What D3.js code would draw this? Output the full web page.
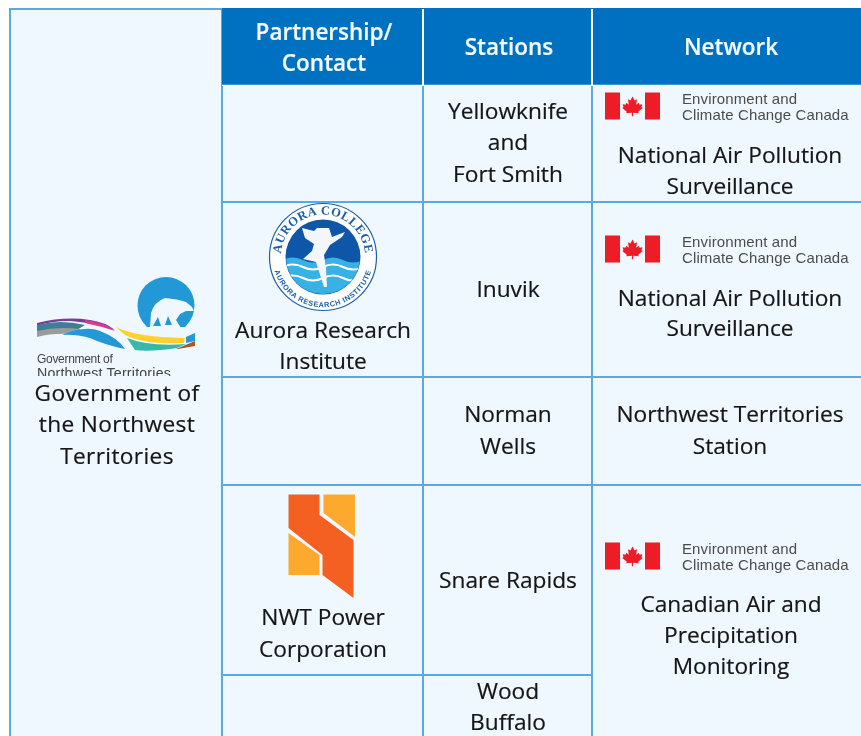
<!DOCTYPE html>
<html><head><meta charset="utf-8">
<style>html,body{margin:0;padding:0;background:#fff;overflow:hidden}svg{display:block}text{font-family:"Open Sans",sans-serif}</style>
<script src="https://cdnjs.cloudflare.com/ajax/libs/d3/7.8.5/d3.min.js"></script>
</head><body><div id="c"></div>
<script>
// ---- content ----
const headers = ["Partnership/\nContact", "Stations", "Network"];
const government = "Government of\nthe Northwest\nTerritories";
const partners = ["", "Aurora Research\nInstitute", "", "NWT Power\nCorporation", ""];
const stations = ["Yellowknife\nand\nFort Smith", "Inuvik", "Norman\nWells", "Snare Rapids", "Wood\nBuffalo"];
const networks = ["National Air Pollution\nSurveillance", "National Air Pollution\nSurveillance", "Northwest Territories\nStation", "Canadian Air and\nPrecipitation\nMonitoring"];
const networkSpans = [1, 1, 1, 2];
const eccc = ["Environment and", "Climate Change Canada"];

// ---- layout ----
const W = 861, H = 736;
const colKeys = ["gov", "partner", "station", "network", "end"];
const x = d3.scaleOrdinal().domain(colKeys).range([10, 222, 423, 592, 900]);
const rowKeys = ["top", "r0", "r1", "r2", "r3", "r4", "end"];
const y = d3.scaleOrdinal().domain(rowKeys).range([9, 85, 202, 377, 485, 675, 790]);
const BORDER = "#5aa9e2", HEAD = "#0070c0", CELL = "#f0f8ff", INK = "#141414";

const svg = d3.select("#c").append("svg").attr("width", W).attr("height", H);
const defs = svg.append("defs");
defs.append("filter").attr("id", "soft").append("feGaussianBlur").attr("stdDeviation", 0.55);
defs.append("filter").attr("id", "softer").append("feGaussianBlur").attr("stdDeviation", 0.28);
defs.append("clipPath").attr("id", "gclip").append("rect").attr("x", 0).attr("y", 0).attr("width", 300).attr("height", 376);
defs.append("clipPath").attr("id", "bearclip").append("rect").attr("x", 130).attr("y", 270).attr("width", 70).attr("height", 57);

// cells
function cell(c0, c1, r0, r1, fill, stroke, sw) {
  svg.append("rect").attr("x", x(c0)).attr("y", y(r0))
    .attr("width", x(c1) - x(c0)).attr("height", y(r1) - y(r0))
    .attr("fill", fill).attr("stroke", stroke).attr("stroke-width", sw || 2);
}
cell("gov", "partner", "top", "end", CELL, BORDER);
["r0", "r1", "r2", "r3", "r4"].forEach((r, i) => {
  const nxt = rowKeys[rowKeys.indexOf(r) + 1];
  cell("partner", "station", r, nxt, CELL, BORDER);
  cell("station", "network", r, nxt, CELL, BORDER);
});
let rowIdx = 1;
networkSpans.forEach(s => { cell("network", "end", rowKeys[rowIdx], rowKeys[rowIdx + s], CELL, BORDER); rowIdx += s; });

// header
svg.append("rect").attr("x", x("partner")).attr("y", y("top") - 1).attr("width", W - x("partner")).attr("height", y("r0") - y("top") + 1).attr("fill", HEAD);
svg.append("line").attr("x1", x("partner")).attr("x2", W).attr("y1", y("r0") + 0.5).attr("y2", y("r0") + 0.5).attr("stroke", "#fff").attr("stroke-width", 1.5);
["station", "network"].forEach(c => svg.append("line").attr("x1", x(c)).attr("x2", x(c)).attr("y1", y("top")).attr("y2", y("r0")).attr("stroke", "#fff").attr("stroke-width", 2));
["partner", "station", "network"].forEach(c => svg.append("line").attr("x1", x(c)).attr("x2", x(c)).attr("y1", y("r0") + 1).attr("y2", y("r0") + 8).attr("stroke", BORDER).attr("stroke-width", 2));

// multi-line centred text
function label(str, cx, firstCy, step, opts = {}) {
  const g = svg.append("g").attr("filter", "url(#softer)");
  g.selectAll("text").data(str.split("\n")).join("text")
    .attr("x", cx).attr("y", (d, i) => firstCy + i * step)
    .attr("text-anchor", "middle").attr("dominant-baseline", "central")
    .attr("font-size", opts.size || 22.7).attr("font-weight", opts.weight || 400)
    .attr("letter-spacing", opts.spacing || 0)
    .attr("stroke", opts.fill || INK).attr("stroke-width", 0.2)
    .attr("fill", opts.fill || INK).text(d => d);
}
const headPos = [[324, 31, 31.5], [509, 46, 0], [731, 46, 0]];
headers.forEach((h, i) => label(h, headPos[i][0], headPos[i][1], headPos[i][2], { fill: "#f4faff", weight: 600, size: 22.5 }));
label(government, 117, 392, 31.5, { spacing: 0.35 });
const partnerPos = { 1: [323, 329, 31], 3: [323, 616, 32] };
partners.forEach((p, i) => { if (p) label(p, partnerPos[i][0], partnerPos[i][1], partnerPos[i][2]); });
const stationPos = [[110, 31.5], [288, 0], [413, 32], [579, 0], [690, 31]];
stations.forEach((s, i) => label(s, 508, stationPos[i][0], stationPos[i][1]));
const networkPos = [[730, 154, 31], [730, 297, 30], [730, 413, 32], [731, 603, 31]];
networks.forEach((n, i) => label(n, networkPos[i][0], networkPos[i][1], networkPos[i][2]));

// Canada wordmark logo
function ecccLogo(top) {
  const g = svg.append("g").attr("transform", `translate(605,${top})`);
  const art = g.append("g").attr("filter", "url(#soft)");
  art.append("rect").attr("width", 15).attr("height", 27).attr("fill", "#ee1c25");
  art.append("rect").attr("x", 40).attr("width", 15).attr("height", 27).attr("fill", "#ee1c25");
  art.append("path").attr("fill", "#ee1c25").attr("transform", "translate(27.5,13) scale(0.82) translate(-27.5,-14)")
    .attr("d", "M27.5 3 L30 8 L33 6.5 L32 13 L35 10.5 L36 13 L39.5 12.5 L38.5 16 L40 17 L34.5 21.5 L35 23.5 L28.3 22.7 L28.3 27 L26.7 27 L26.7 22.7 L20 23.5 L20.5 21.5 L15 17 L16.5 16 L15.5 12.5 L19 13 L20 10.5 L23 13 L22 6.5 L25 8 Z");
  const t = g.append("g").attr("filter", "url(#softer)");
  t.selectAll("text").data(eccc).join("text")
    .attr("x", 77).attr("y", (d, i) => 6 + i * 16)
    .attr("dominant-baseline", "central").attr("font-size", 15).attr("letter-spacing", 0.12)
    .attr("fill", "#4c4c4c").style("font-family", "'Liberation Sans',sans-serif").text(d => d);
}
[92.5, 235.5, 542.5].forEach(ecccLogo);

// GNWT logo
const gn = svg.append("g").attr("filter", "url(#soft)");
const bearG = gn.append("g").attr("clip-path", "url(#bearclip)");
bearG.append("circle").attr("cx", 166).attr("cy", 305.5).attr("r", 28.5).attr("fill", "#2398d6");
bearG.append("path").attr("fill", CELL).attr("d", "M150 328 L151 313 Q154 302 165 298 Q178 299 186 302 L192 307 L194 311 L186 311 L180 314 L176 320 L181 328 Z");
bearG.append("path").attr("fill", "#2398d6").attr("d", "M153 326 L158 317 L161 326 Z M165 325 L168 316 L172 325 Z");
gn.append("path").attr("fill", "#7c3b98").attr("d", "M37 323 Q65 316 90 320 Q105 322 115 330 Q95 323 70 321 Q50 321 37 326 Z");
gn.append("path").attr("fill", "#d8398f").attr("d", "M85 320 Q105 322 115 331 Q100 326 85 323 Z");
gn.append("path").attr("fill", "#3c7f96").attr("d", "M37 325 Q60 319 85 325 L75 331 Q55 329 37 332 Z");
gn.append("path").attr("fill", "#9b9b9b").attr("d", "M37 331 Q58 326 80 329 L87 336 Q60 331 37 337 Z");
gn.append("path").attr("fill", "#2398d6").attr("d", "M62 335 Q85 325 100 331 Q118 338 125 349 Q105 345 90 338 Q75 334 62 335 Z");
gn.append("path").attr("fill", "#ffd02f").attr("d", "M116 327 Q135 337 185 338 L184 343 Q145 345 125 335 Z");
gn.append("path").attr("fill", "#38b8a8").attr("d", "M127 338 Q150 347 186 344 L177 348 Q150 352 135 350 Z");
gn.append("path").attr("fill", "#2398d6").attr("d", "M186 337 L195 333 L195 341 L186 343 Z");
gn.append("path").attr("fill", "#a5582a").attr("d", "M176 349 L195 341 L195 346 L178 349 Z");
const gt = svg.append("g").attr("clip-path", "url(#gclip)").append("g").attr("filter", "url(#softer)");
const gnwtWords = ["Government of", "Northwest Territories"];
gt.selectAll("text").data(gnwtWords).join("text")
  .attr("x", 37).attr("y", (d, i) => i ? 372.5 : 358.5).attr("dominant-baseline", "central")
  .attr("font-size", (d, i) => i ? 14.2 : 12).attr("letter-spacing", (d, i) => i ? 0.2 : -0.3).attr("fill", "#444")
  .style("font-family", "'Liberation Sans',sans-serif").text(d => d);

// Aurora College seal
const au = svg.append("g").attr("transform", "translate(323,257)");
const auArt = au.append("g").attr("filter", "url(#soft)");
auArt.append("circle").attr("r", 53.5).attr("fill", "#fff").attr("stroke", "#1d5fa8").attr("stroke-width", 1.2);
auArt.append("circle").attr("r", 37.5).attr("fill", "#0f57a8");
defs.append("clipPath").attr("id", "auclip").append("circle").attr("r", 37);
const inner = auArt.append("g").attr("clip-path", "url(#auclip)");
inner.append("path").attr("fill", "#39b1e6").attr("d", "M-40 3 Q-30 -2 -20 3 T0 3 T20 3 T40 3 V40 H-40 Z");
inner.selectAll(".w").data([10, 21]).join("path").attr("fill", "none").attr("stroke", "#fff").attr("stroke-width", 2)
  .attr("d", d => `M-40 ${d} Q-30 ${d - 5} -20 ${d} T0 ${d} T20 ${d} T40 ${d}`);
auArt.append("path").attr("fill", "#f4f6fb").attr("d", "M-21 -29 L-9 -26 L-6 -29 L6 -29 L9 -20 L22 -25 L19 -20 L7 -12 L1 -2 L3 12 L4 30 L1 30 L-7 5 L-20 2 L-11 -6 L-9 -13 L-18 -19 Z");
defs.append("path").attr("id", "arcTop").attr("d", "M-41.5 6 A42 42 0 1 1 41.5 6");
defs.append("path").attr("id", "arcBot").attr("d", "M-50 -5 A50.25 50.25 0 1 0 50 -5");
const sealText = [["#arcTop", "AURORA COLLEGE", 12.5, "'Liberation Serif',serif", 0.5], ["#arcBot", "AURORA RESEARCH INSTITUTE", 7.3, "'Liberation Sans',sans-serif", 0.6]];
sealText.forEach(([href, str, fs, fam, sp]) => {
  au.append("text").attr("font-size", fs).attr("fill", "#1d5fa8").attr("font-weight", 700).attr("filter", "url(#softer)")
    .attr("letter-spacing", sp).style("font-family", fam)
    .append("textPath").attr("href", href).attr("startOffset", "50%").attr("text-anchor", "middle").text(str);
});

// NWT Power logo
const pw = svg.append("g").attr("filter", "url(#soft)");
const poly = (pts, fill) => pw.append("polygon").attr("fill", fill).attr("points", pts);
poly("288.5,494.5 319.5,494.5 319.5,515 353.5,540 353.5,598 322.5,575 322.5,555 288.5,528", "#f46023");
poly("323.5,494.5 355,494.5 355,537 323.5,513", "#fca92f");
poly("288.5,533 319.5,555 319.5,575 288.5,575", "#fca92f");
</script></body></html>
